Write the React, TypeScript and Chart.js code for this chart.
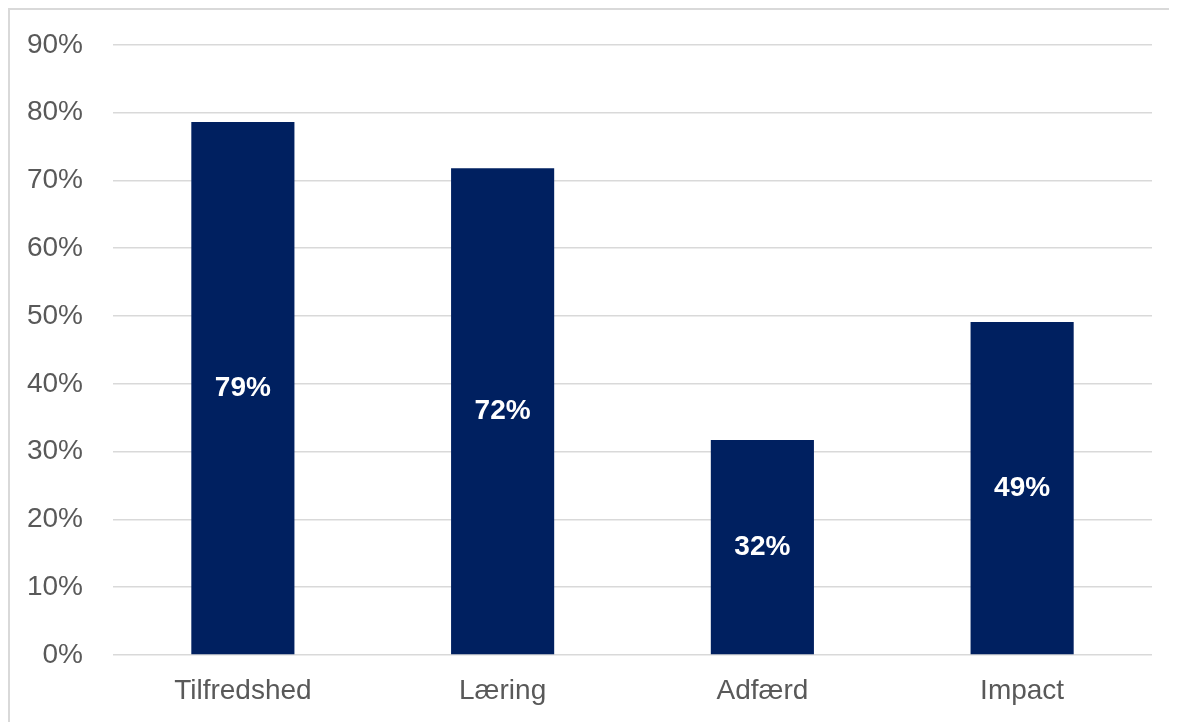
import React, { useEffect, useRef } from "react";
import { Chart, registerables } from "chart.js";

Chart.register(...registerables);

const categories = ["Tilfredshed", "Læring", "Adfærd", "Impact"];
const values = [78.6, 71.8, 31.7, 49.1];
const yTicks = [0, 10, 20, 30, 40, 50, 60, 70, 80, 90];

const barLabelPlugin = {
  id: "barLabels",
  afterDatasetsDraw(chart: any) {
    const ctx = chart.ctx;
    const meta = chart.getDatasetMeta(0);
    ctx.save();
    ctx.fillStyle = "#ffffff";
    ctx.font = "bold 28px 'Liberation Sans', Arial, sans-serif";
    ctx.textAlign = "center";
    ctx.textBaseline = "middle";
    meta.data.forEach((bar: any, i: number) => {
      const v = chart.data.datasets[0].data[i];
      const cy = (bar.y + bar.base) / 2;
      ctx.fillText(Math.round(v) + "%", bar.x, cy);
    });
    ctx.restore();
  },
};

export default function App() {
  const ref = useRef<HTMLCanvasElement>(null);
  useEffect(() => {
    document.documentElement.style.overflow = "hidden";
    if (!ref.current) return;
    const chart = new Chart(ref.current, {
      type: "bar",
      data: {
        labels: categories,
        datasets: [
          {
            data: values,
            backgroundColor: "#002060",
            borderWidth: 0,
            categoryPercentage: 1,
            barPercentage: 0.397,
          },
        ],
      },
      options: {
        responsive: false,
        animation: false,
        layout: { padding: { top: 0, right: 17, left: 0, bottom: 0 } },
        plugins: { legend: { display: false }, tooltip: { enabled: false } },
        scales: {
          x: {
            grid: { display: false, drawTicks: false },
            border: { display: false },
            ticks: {
              color: "#595959",
              font: { family: "'Liberation Sans', Arial, sans-serif", size: 28 },
              padding: 19,
            },
            afterFit(scale: any) {
              scale.height = 55;
            },
          },
          y: {
            min: 0,
            max: 90,
            afterBuildTicks(scale: any) {
              scale.ticks = yTicks.map((v) => ({ value: v }));
            },
            grid: { color: "#d9d9d9", lineWidth: 1.5, drawTicks: false },
            border: { display: false },
            ticks: {
              color: "#595959",
              font: { family: "'Liberation Sans', Arial, sans-serif", size: 28 },
              padding: 30,
              callback: (v: any) => v + "%",
            },
            afterFit(scale: any) {
              scale.width = 103;
            },
          },
        },
      },
      plugins: [barLabelPlugin],
    });
    return () => chart.destroy();
  }, []);

  return (
    <div
      style={{
        position: "relative",
        borderTop: "2px solid #d9d9d9",
        borderLeft: "2px solid #d9d9d9",
        width: 1167,
        height: 712,
        background: "#fff",
      }}
    >
      <canvas
        ref={ref}
        width={1159}
        height={712}
        style={{ display: "block", position: "absolute", left: 0, top: -12 }}
      />
    </div>
  );
}
